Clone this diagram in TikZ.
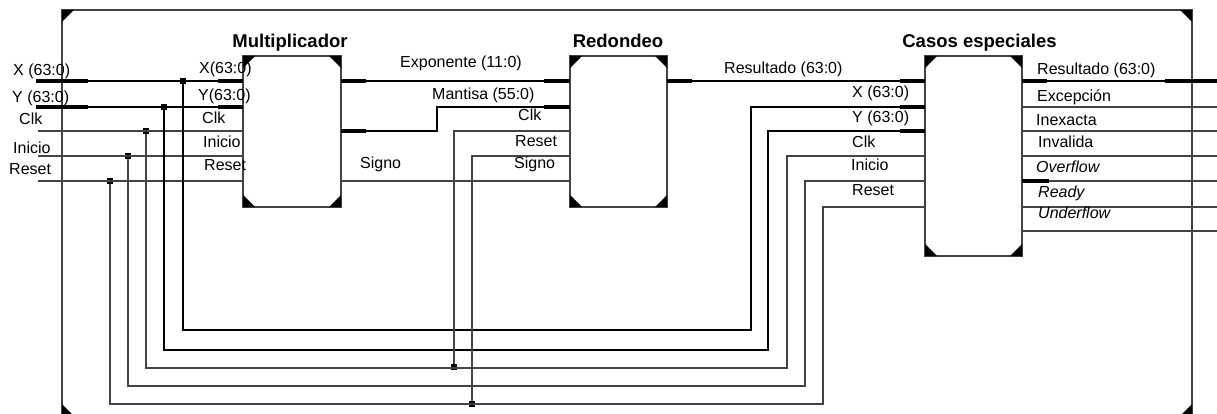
\documentclass[tikz,border=0pt]{standalone}
\usepackage{fontspec}
\setmainfont{Liberation Sans}
\usetikzlibrary{calc,positioning}
\definecolor{wirecol}{HTML}{444444}
\tikzset{
  every node/.style={font=\fontsize{16}{18}\selectfont},
  wire/.style={draw=wirecol,line width=1.15pt},
  bus/.style={draw=black,line width=1.9pt},
  stub/.style={draw=black,line width=3.8pt},
  block/.style={draw=wirecol,line width=1.15pt,inner sep=0pt,outer sep=0pt},
  blocktitle/.style={anchor=base,inner sep=0pt,font=\fontsize{18.5}{20}\selectfont\bfseries},
  lab/.style={anchor=base west,inner sep=0pt},
  junction/.style={fill=black,inner sep=0pt,minimum size=5.4pt}}

\begin{document}
\begin{tikzpicture}[x=1pt,y=-1pt]
\useasboundingbox (0,0) rectangle (1217,414);
\node[block,minimum width=1130pt,minimum height=406pt] (frame) at (627,213) {};
\node[block,minimum width=98pt,minimum height=151pt] (mult) at (292,131.5) {};
\node[block,minimum width=97pt,minimum height=151pt] (redo) at (618.5,131.5) {};
\node[block,minimum width=97pt,minimum height=200pt] (casos) at (973.5,156) {};
\foreach \blk in {frame,mult,redo,casos} {
 \fill (\blk.north west) -- ++(12,0) -- ++(-12,12) -- cycle;
 \fill (\blk.north east) -- ++(-12,0) -- ++(12,12) -- cycle;
 \fill (\blk.south west) -- ++(12,0) -- ++(-12,-12) -- cycle;
 \fill (\blk.south east) -- ++(-12,0) -- ++(12,-12) -- cycle;}
% entradas
\foreach \n/\x/\y in {inX/36/81,inY/36/107,inClk/38/131,inIni/38/156,inRst/38/181,
  outRes/1217/81,outExc/1217/107,outIne/1217/131,outInv/1217/156,outOvf/1217/181,outRdy/1217/207,outUnd/1217/231,
  lowX/751/330,lowY/768/350,lowClk/787/368,lowIni/805/386,lowRst/823/404,bendMan/437/131} {
 \coordinate (\n) at (\x,\y);}
\foreach \n/\x/\y in {jX/183/81,jY/164/107,jClk/146/131,jIni/128/156,jRst/110/181,jRedClk/454/367,jRedRst/472/404} {
 \node[junction] (\n) at (\x,\y) {};}
\draw[bus] (inX)--(inX -| mult.west) (inY)--(inY -| mult.west);
\draw[wire] (inClk)--(inClk -| mult.west) (inIni)--(inIni -| mult.west) (inRst)--(inRst -| mult.west);
\draw[stub] (inX)--++(52,0) (inY)--++(52,0);
\draw[stub] (inX -| mult.west)--++(-25,0) (inY -| mult.west)--++(-25,0);
% rutas por abajo
\draw[bus] (jX) |- (lowX) |- (inY -| casos.west);
\draw[bus] (jY) |- (lowY) |- (inClk -| casos.west);
\draw[wire] (jClk) |- (lowClk) |- (inIni -| casos.west);
\draw[wire] (jIni) |- (lowIni) |- (inRst -| casos.west);
\draw[wire] (jRst) |- (lowRst) |- (outRdy -| casos.west);
% multiplicador a redondeo
\draw[bus] (mult.east |- inX)--(redo.west |- inX);
\draw[bus] (mult.east |- inClk)--(bendMan) |- (redo.west |- inY);
\draw[wire] (mult.east |- inRst)--(redo.west |- inRst);
\draw[stub] (mult.east |- inX)--++(25,0) (mult.east |- inClk)--++(25,0);
\draw[stub] (redo.west |- inX)--++(-26,0) (redo.west |- inY)--++(-26,0);
\draw[wire] (redo.west |- inClk) -| (jRedClk);
\draw[wire] (redo.west |- inIni) -| (jRedRst);
% redondeo a casos
\draw[bus] (redo.east |- inX)--(casos.west |- inX);
\draw[stub] (redo.east |- inX)--++(25,0);
\foreach \y in {inX,inY,inClk} {
 \draw[stub] (casos.west |- \y)--++(-25,0);}
% salidas
\draw[bus] (casos.east |- outRes)--(outRes);
\draw[stub] (casos.east |- outRes)--++(25,0) (outRes)--++(-52,0);
\foreach \y in {outExc,outIne,outInv,outOvf,outRdy,outUnd} {
 \draw[wire] (casos.east |- \y)--(\y);}
\draw[stub] (casos.east |- outOvf)--++(27,0);
% textos
\node[blocktitle] (tMult) at (290,48) {Multiplicador};
\node[blocktitle] (tRedo) at (618,47.5) {Redondeo};
\node[blocktitle] (tCasos) at (979.5,48) {Casos especiales};
\foreach \n/\x/\y/\lab in {a1/13/76/{X (63:0)},a2/12/103/{Y (63:0)},a3/19/125/{Clk},a4/13/154/{Inicio},a5/9/175/{Reset},
  b1/199/74/{X(63:0)},b2/198/101/{Y(63:0)},b3/202/124/{Clk},b4/203/148/{Inicio},b5/204/171/{Reset},b6/360/168/{Signo},
  c1/400/68/{Exponente (11:0)},c2/432/100/{Mantisa (55:0)},c3/518/121/{Clk},c4/515/147/{Reset},c5/514/168/{Signo},
  d1/724/74/{Resultado (63:0)},d2/852/98/{X (63:0)},d3/852/123/{Y (63:0)},d4/852/148/{Clk},d5/851/171/{Inicio},d6/852/196/{Reset},
  e1/1037/75/{Resultado (63:0)},e2/1037/102/{Excepción},e3/1036/126/{Inexacta},e4/1038/148/{Invalida},
  e5/1036/173/{\itshape Overflow},e6/1038/197/{\itshape Ready},e7/1038/218/{\itshape Underflow}} {
 \node[lab] (\n) at (\x,\y) {\lab};}
\end{tikzpicture}
\end{document}
